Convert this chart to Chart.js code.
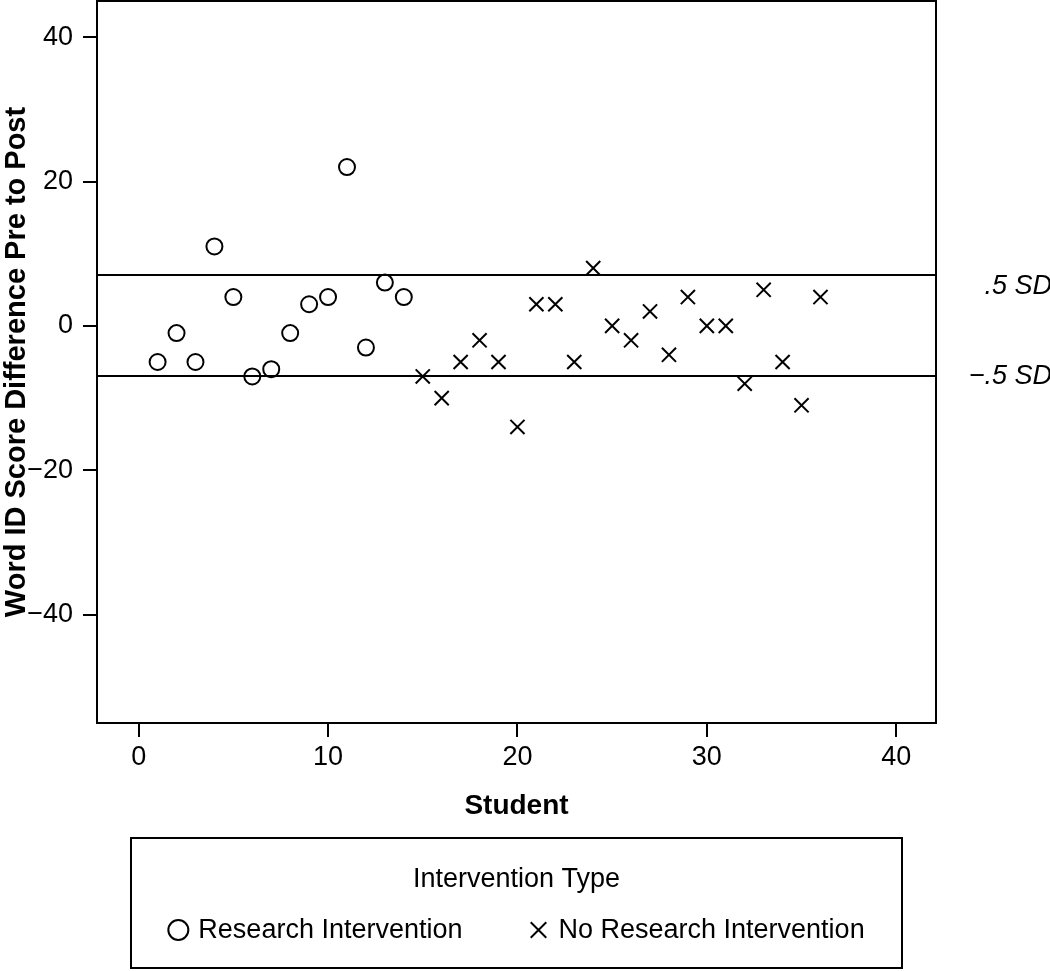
<!DOCTYPE html>
<html>
<head>
<meta charset="utf-8">
<script src="https://cdn.jsdelivr.net/npm/chart.js@4.4.1/dist/chart.umd.min.js"></script>
<style>
    html, body { margin: 0; padding: 0; background: #ffffff; }
    #wrap { width: 1050px; height: 971px; }
</style>
</head>
<body>
<div id="wrap"><canvas id="chart"></canvas></div>
<script>
// Données
const researchStudents = [1, 2, 3, 4, 5, 6, 7, 8, 9, 10, 11, 12, 13, 14];
const researchScores = [-5, -1, -5, 11, 4, -7, -6, -1, 3, 4, 22, -3, 6, 4];

const noResearchStudents = [15, 16, 17, 18, 19, 20, 21, 22, 23, 24, 25, 26, 27, 28, 29, 30, 31, 32, 33, 34, 35, 36];
const noResearchScores = [-7, -10, -5, -2, -5, -14, 3, 3, -5, 8, 0, -2, 2, -4, 4, 0, 0, -8, 5, -5, -11, 4];

const sdLines = [7, -7];
const sdLabels = ['.5 SD', '\u2212.5 SD'];

const xTicks = [0, 10, 20, 30, 40];
const yTicks = [-40, -20, 0, 20, 40];

const legendTitle = 'Intervention Type';
const FONT = '"Liberation Sans", Arial, Helvetica, sans-serif';

function toPoints(xs, ys) {
    return xs.map((x, i) => ({ x: x, y: ys[i] }));
}

function minusLabel(v) {
    return v < 0 ? '\u2212' + Math.abs(v) : String(v);
}

// Cadre, lignes SD et légende dessinés à la main
const extrasPlugin = {
    id: 'extras',
    afterDatasetsDraw(chart) {
        const ctx = chart.ctx;
        const area = chart.chartArea;
        const yScale = chart.scales.y;

        ctx.save();
        ctx.strokeStyle = '#000';
        ctx.lineWidth = 2;
        ctx.strokeRect(area.left, area.top, area.right - area.left, area.bottom - area.top);

        // lignes horizontales à +/- .5 SD
        sdLines.forEach((v, i) => {
            const py = Math.round(yScale.getPixelForValue(v));
            ctx.beginPath();
            ctx.moveTo(area.left, py);
            ctx.lineTo(area.right, py);
            ctx.stroke();

            ctx.fillStyle = '#000';
            ctx.font = 'italic 27px ' + FONT;
            ctx.textAlign = 'right';
            ctx.textBaseline = 'middle';
            const offset = i === 0 ? 11 : 0;
            ctx.fillText(sdLabels[i], chart.width + 2, py + offset);
        });

        // légende encadrée
        const boxTop = area.bottom + 115;
        const boxBottom = chart.height - 3;
        const cx = (area.left + area.right) / 2;
        const boxW = 771;
        ctx.strokeRect(cx - boxW / 2, boxTop, boxW, boxBottom - boxTop);

        ctx.font = '27px ' + FONT;
        ctx.textAlign = 'center';
        ctx.textBaseline = 'middle';
        ctx.fillText(legendTitle, cx, boxTop + 42);

        const itemY = boxTop + 92;
        const datasets = chart.data.datasets;
        const widths = datasets.map(ds => ctx.measureText(ds.label).width);
        const markerGap = 30;
        const itemGap = 66;
        const total = markerGap * 2 + widths[0] + widths[1] + itemGap;
        let x = cx - total / 2;
        ctx.textAlign = 'left';
        datasets.forEach((ds, i) => {
            ctx.strokeStyle = '#000';
            ctx.fillStyle = 'rgba(0,0,0,0)';
            ctx.lineWidth = 2;
            Chart.helpers.drawPoint(ctx, {
                pointStyle: ds.pointStyle,
                radius: ds.pointStyle === 'circle' ? 10 : 11,
                rotation: 0,
                borderWidth: 2
            }, x + 10, itemY);
            ctx.fillStyle = '#000';
            ctx.fillText(ds.label, x + markerGap, itemY + 1);
            x += markerGap + widths[i] + itemGap;
        });
        ctx.restore();
    }
};

new Chart(document.getElementById('chart'), {
    type: 'scatter',
    data: {
        datasets: [
            {
                label: 'Research Intervention',
                data: toPoints(researchStudents, researchScores),
                pointStyle: 'circle',
                pointRadius: 8,
                pointBorderWidth: 2,
                pointBackgroundColor: 'rgba(255,255,255,0)',
                pointBorderColor: '#000'
            },
            {
                label: 'No Research Intervention',
                data: toPoints(noResearchStudents, noResearchScores),
                pointStyle: 'crossRot',
                pointRadius: 10,
                pointBorderWidth: 2,
                pointBackgroundColor: '#000',
                pointBorderColor: '#000'
            }
        ]
    },
    options: {
        responsive: true,
        maintainAspectRatio: false,
        animation: false,
        layout: {
            autoPadding: false,
            padding: { left: 0, top: 1, right: 114, bottom: 133 }
        },
        plugins: {
            legend: { display: false },
            tooltip: { enabled: false }
        },
        scales: {
            x: {
                type: 'linear',
                min: -2.2,
                max: 42.1,
                afterBuildTicks: scale => { scale.ticks = xTicks.map(v => ({ value: v })); },
                afterFit: scale => {
                    scale.height = 115;
                    scale.paddingLeft = 0;
                    scale.paddingRight = 0;
                },
                border: { display: false },
                grid: {
                    drawOnChartArea: false,
                    drawTicks: true,
                    tickLength: 14,
                    color: '#000',
                    lineWidth: 2
                },
                ticks: {
                    color: '#000',
                    font: { family: FONT, size: 27 },
                    padding: 4,
                    maxRotation: 0,
                    callback: v => minusLabel(v)
                },
                title: {
                    display: true,
                    text: 'Student',
                    color: '#000',
                    font: { family: FONT, size: 28, weight: 'bold' },
                    padding: { top: 0, bottom: 15 }
                }
            },
            y: {
                type: 'linear',
                min: -55,
                max: 45,
                afterBuildTicks: scale => { scale.ticks = yTicks.map(v => ({ value: v })); },
                afterFit: scale => {
                    scale.width = 97;
                    scale.paddingTop = 0;
                    scale.paddingBottom = 0;
                },
                border: { display: false },
                grid: {
                    drawOnChartArea: false,
                    drawTicks: true,
                    tickLength: 14,
                    color: '#000',
                    lineWidth: 2
                },
                ticks: {
                    color: '#000',
                    font: { family: FONT, size: 27 },
                    padding: 10,
                    callback: v => minusLabel(v)
                },
                title: {
                    display: true,
                    text: 'Word ID Score Difference Pre to Post',
                    color: '#000',
                    font: { family: FONT, size: 29, weight: 'bold' },
                    padding: { top: 0, bottom: 0 }
                }
            }
        }
    },
    plugins: [extrasPlugin]
});
</script>
</body>
</html>
